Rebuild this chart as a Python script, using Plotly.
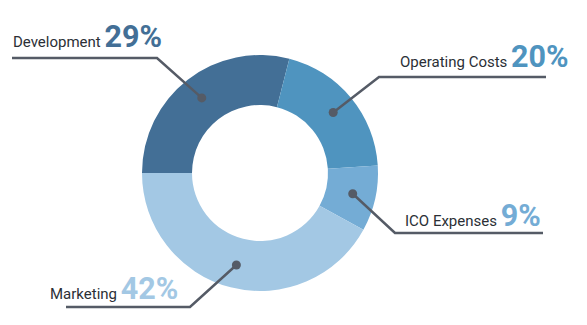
import math
import plotly.graph_objects as go

# Budget allocation
labels = ["Development", "Operating Costs", "ICO Expenses", "Marketing"]
values = [29, 20, 9, 42]
colors = ["#436f96", "#4f94bf", "#74acd5", "#a3c8e4"]

W, H = 587, 325
CX, CY, R_OUT, R_IN = 260, 173, 118, 68
START = 270  # first slice begins at 9 o'clock, slices run clockwise

def px(x):
    return x / W

def py(y):
    return 1 - y / H

fig = go.Figure(go.Pie(
    labels=labels, values=values, sort=False, direction="clockwise",
    rotation=START, hole=R_IN / R_OUT,
    marker=dict(colors=colors, line=dict(width=0)),
    textinfo="none", hoverinfo="label+percent",
    domain=dict(x=[px(CX - R_OUT), px(CX + R_OUT)],
                y=[py(CY + R_OUT), py(CY - R_OUT)]),
))

# Leader-line elbows and ends (pixels) plus text start / box bottom for each label
leaders = [
    dict(elbow=(157, 58), end=(12, 58), tx=11, ty=56),
    dict(elbow=(379, 77), end=(546, 77), tx=398, ty=76),
    dict(elbow=(395, 233), end=(543, 233), tx=403, ty=235),
    dict(elbow=(190, 307), end=(66, 307), tx=48, ty=308),
]

LINE = "#555b66"
shapes, annotations = [], []
total = sum(values)
acc = 0
r_dot = (R_IN + R_OUT) / 2 + 2
for lab, val, col, ld in zip(labels, values, colors, leaders):
    mid = START + (acc + val / 2) / total * 360
    acc += val
    a = math.radians(mid)
    dx, dy = CX + r_dot * math.sin(a), CY - r_dot * math.cos(a)
    ex, ey = ld["elbow"]
    fx, fy = ld["end"]
    shapes.append(dict(type="path", xref="paper", yref="paper",
                       path=f"M {px(dx)},{py(dy)} L {px(ex)},{py(ey)} L {px(fx)},{py(fy)}",
                       line=dict(color=LINE, width=2.5)))
    shapes.append(dict(type="circle", xref="paper", yref="paper",
                       x0=px(dx - 4.5), x1=px(dx + 4.5), y0=py(dy + 4.5), y1=py(dy - 4.5),
                       fillcolor=LINE, line=dict(width=0)))
    annotations.append(dict(
        xref="paper", yref="paper", x=px(ld["tx"]), y=py(ld["ty"]),
        xanchor="left", yanchor="bottom", showarrow=False,
        text=f"{lab} <b><span style='font-size:30.5px;color:{col}'>{val}%</span></b>",
        font=dict(family="Roboto", size=15, color="#2b2f36"),
    ))

fig.update_layout(
    width=W, height=H, margin=dict(l=0, r=0, t=0, b=0),
    paper_bgcolor="white", plot_bgcolor="white", showlegend=False,
    shapes=shapes, annotations=annotations,
)

fig.write_html("out.html")
